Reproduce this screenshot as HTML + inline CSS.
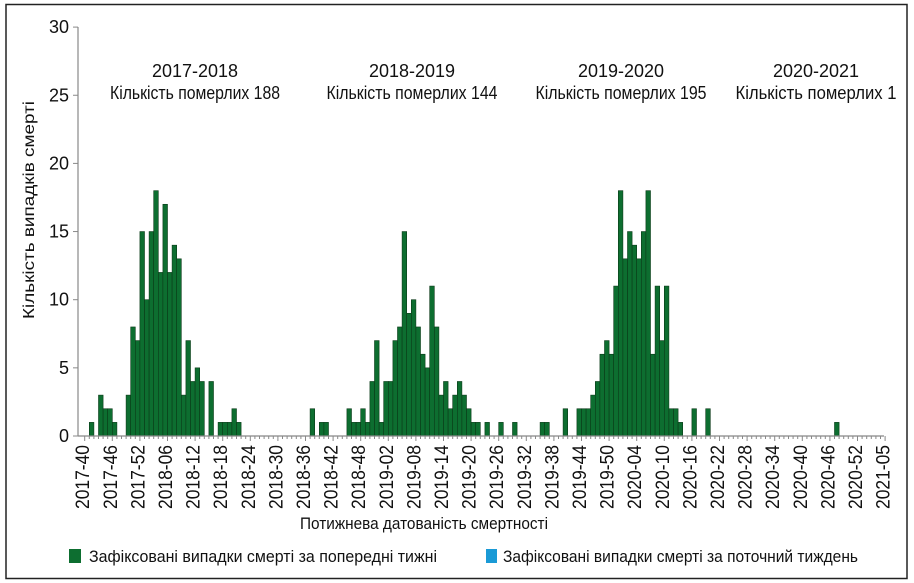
<!DOCTYPE html>
<html><head><meta charset="utf-8"><style>
html,body{margin:0;padding:0;background:#fff;}
svg{display:block;font-family:"Liberation Sans Narrow","Liberation Sans","DejaVu Sans",sans-serif;}
</style></head><body>
<svg id="s" width="914" height="583" viewBox="0 0 914 583" xmlns="http://www.w3.org/2000/svg">
<rect x="6" y="4.5" width="901" height="574" fill="#fff" stroke="#222" stroke-width="1.5"/>
<g id="bars" fill="#0d6e30" stroke="#0a3a18" stroke-width="0.6"></g>
<line x1="78" y1="27" x2="78" y2="436" stroke="#888" stroke-width="1.2"/>
<line x1="78" y1="436" x2="884" y2="436" stroke="#888" stroke-width="1.2"/>
<g id="yt" stroke="#888" stroke-width="1"></g>
<g id="xt" stroke="#888" stroke-width="1"></g>
<g id="yl" font-size="18" fill="#111" text-anchor="end"></g>
<g id="xl" font-size="19" fill="#111"></g>
<g font-size="18" fill="#111" text-anchor="middle">
<text x="195" y="77" textLength="86" lengthAdjust="spacingAndGlyphs">2017-2018</text>
<text x="195" y="99" textLength="170" lengthAdjust="spacingAndGlyphs">Кількість померлих 188</text>
<text x="412" y="77" textLength="86" lengthAdjust="spacingAndGlyphs">2018-2019</text>
<text x="412" y="99" textLength="171" lengthAdjust="spacingAndGlyphs">Кількість померлих 144</text>
<text x="621" y="77" textLength="86" lengthAdjust="spacingAndGlyphs">2019-2020</text>
<text x="621" y="99" textLength="171" lengthAdjust="spacingAndGlyphs">Кількість померлих 195</text>
<text x="816" y="77" textLength="86" lengthAdjust="spacingAndGlyphs">2020-2021</text>
<text x="816" y="99" textLength="161" lengthAdjust="spacingAndGlyphs">Кількість померлих 1</text>
<text transform="translate(34,210) rotate(-90)" font-size="16" textLength="218" lengthAdjust="spacingAndGlyphs">Кількість випадків смерті</text>
<text x="424" y="529" font-size="17" textLength="248" lengthAdjust="spacingAndGlyphs">Потижнева датованість смертності</text>
</g>
<rect x="69" y="549" width="12" height="14" fill="#0d6e30"/>
<text x="89" y="562" font-size="17" fill="#111" textLength="348" lengthAdjust="spacingAndGlyphs">Зафіксовані випадки смерті за попередні тижні</text>
<rect x="486" y="549" width="11" height="14" fill="#1a9ad6"/>
<text x="503" y="562" font-size="17" fill="#111" textLength="355" lengthAdjust="spacingAndGlyphs">Зафіксовані випадки смерті за поточний тиждень</text>
</svg>
<script>
var NS="http://www.w3.org/2000/svg";
function el(p,t,a,txt){var e=document.createElementNS(NS,t);for(var k in a)e.setAttribute(k,a[k]);if(txt!=null)e.textContent=txt;document.getElementById(p).appendChild(e);return e;}
var d={1:1,3:3,4:2,5:2,6:1,9:3,10:8,11:7,12:15,13:10,14:15,15:18,16:12,17:17,18:12,19:14,20:13,21:3,22:7,23:4,24:5,25:4,27:4,29:1,30:1,31:1,32:2,33:1,
49:2,51:1,52:1,57:2,58:1,59:1,60:2,61:1,62:4,63:7,64:1,65:4,66:4,67:7,68:8,69:15,70:9,71:10,72:8,73:6,74:5,75:11,76:8,77:3,78:4,79:2,80:3,81:4,82:3,83:2,84:1,85:1,87:1,90:1,93:1,
99:1,100:1,104:2,107:2,108:2,109:2,110:3,111:4,112:6,113:7,114:6,115:11,116:18,117:13,118:15,119:14,120:13,121:15,122:18,123:6,124:11,125:7,126:11,127:2,128:2,129:1,132:2,135:2,163:1};
var x0=84.7,w=4.6,y0=436,u=13.63;
for(var i in d){var v=d[i];el("bars","rect",{x:(x0+i*w).toFixed(2),y:(y0-v*u).toFixed(2),width:w,height:(v*u).toFixed(2)});}
for(var k=0;k<=6;k++){var y=y0-k*5*u;el("yt","line",{x1:73,y1:y,x2:78,y2:y});el("yl","text",{x:69,y:y+6},String(k*5));}
for(var i=0;i<=174;i++){var x=x0+i*w;el("xt","line",{x1:x,y1:436,x2:x,y2:(i%6==0?441:439)});}
var labs=["2017-40","2017-46","2017-52","2018-06","2018-12","2018-18","2018-24","2018-30","2018-36","2018-42","2018-48","2019-02","2019-08","2019-14","2019-20","2019-26","2019-32","2019-38","2019-44","2019-50","2020-04","2020-10","2020-16","2020-22","2020-28","2020-34","2020-40","2020-46","2020-52","2021-05"];
for(var j=0;j<labs.length;j++){var x=x0+j*6*w-2.5+7;el("xl","text",{transform:"translate("+x.toFixed(2)+",509) rotate(-90)",textLength:64,lengthAdjust:"spacingAndGlyphs"},labs[j]);}
</script>
</body></html>
